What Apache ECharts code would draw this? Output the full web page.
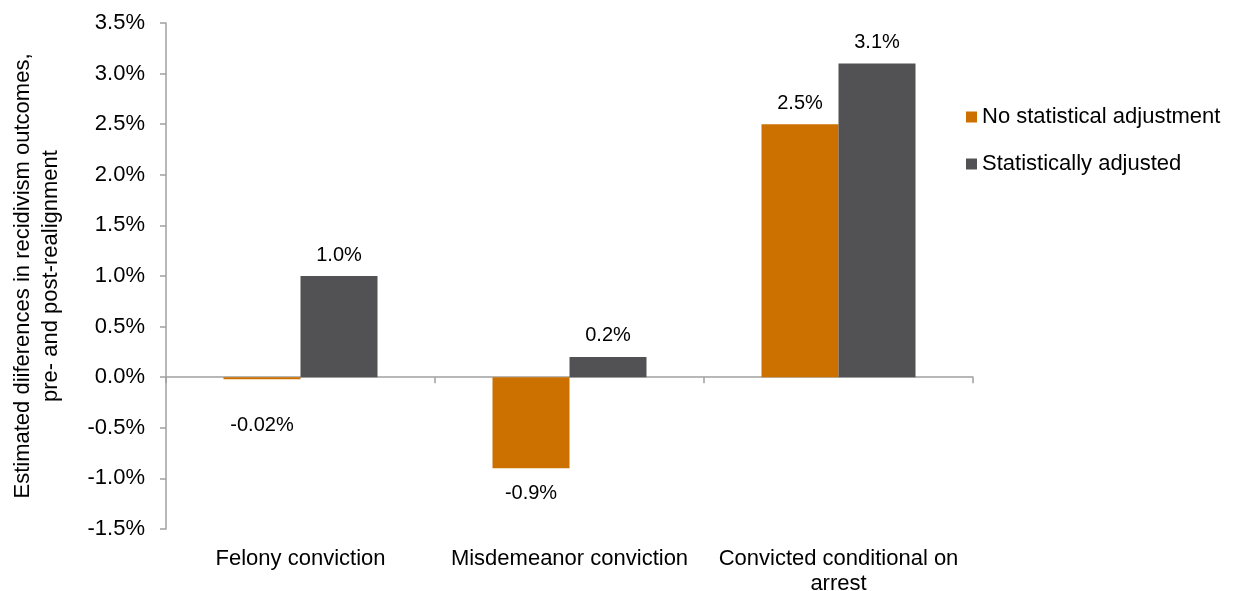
<!DOCTYPE html>
<html>
<head>
<meta charset="utf-8">
<script src="https://cdn.jsdelivr.net/npm/echarts@6/dist/echarts.min.js"></script>
<style>
  html, body { margin: 0; padding: 0; background: #fff; }
  #chart { width: 1235px; height: 591px; }
</style>
</head>
<body>
<div id="chart"></div>
<script>
const categories = ['Felony conviction', 'Misdemeanor conviction', 'Convicted conditional on\narrest']
const noAdjustment = [-0.02, -0.9, 2.5]
const adjusted = [1.0, 0.2, 3.1]
const noAdjustmentLabels = ['-0.02%', '-0.9%', '2.5%']
const adjustedLabels = ['1.0%', '0.2%', '3.1%']

const chart = echarts.init(document.getElementById('chart'))
const font = 'Liberation Sans, Arial, sans-serif'
const axisGray = '#a0a0a0'

// negative labels sit below the bar end, the tiny one was pushed further down
function labelItems(values, labels, extra) {
  return values.map((v, i) => ({
    value: v,
    label: {
      show: true,
      position: v < 0 ? 'bottom' : 'top',
      distance: v < 0 ? (extra[i] || 15) : 11,
      formatter: labels[i]
    }
  }))
}

const option = {
  animation: false,
  textStyle: { fontFamily: font },
  grid: { left: 166, right: 262, top: 23, bottom: 62, containLabel: false, outerBoundsMode: 'none' },
  legend: {
    orient: 'vertical',
    left: 961,
    top: 101,
    itemWidth: 11,
    itemHeight: 11,
    itemGap: 25,
    icon: 'rect',
    textStyle: { fontSize: 22, color: '#000', fontFamily: font, padding: [0, 0, 0, 0] },
    data: ['No statistical adjustment', 'Statistically adjusted']
  },
  xAxis: [
    {
      type: 'category',
      data: categories,
      axisLine: { onZero: true, lineStyle: { color: axisGray, width: 1.5 } },
      axisTick: { show: true, length: 6, lineStyle: { color: axisGray, width: 1.5 } },
      axisLabel: { show: false }
    },
    {
      type: 'category',
      data: categories,
      position: 'bottom',
      axisLine: { show: false },
      axisTick: { show: false },
      axisLabel: { show: true, interval: 0, hideOverlap: false, margin: 17, fontSize: 22, color: '#000', fontFamily: font, lineHeight: 25 }
    }
  ],
  yAxis: {
    type: 'value',
    min: -1.5,
    max: 3.5,
    interval: 0.5,
    name: 'Estimated diiferences in recidivism outcomes,\npre- and post-realignment',
    nameLocation: 'middle',
    nameGap: 101,
    nameTextStyle: { fontSize: 22, color: '#000', fontFamily: font, lineHeight: 28 },
    axisLine: { show: true, lineStyle: { color: axisGray, width: 1.5 } },
    axisTick: { show: true, length: 6, lineStyle: { color: axisGray, width: 1.5 } },
    splitLine: { show: false },
    axisLabel: {
      margin: 21,
      fontSize: 22,
      color: '#000',
      fontFamily: font,
      formatter: v => v.toFixed(1) + '%'
    }
  },
  series: [
    {
      name: 'No statistical adjustment',
      type: 'bar',
      barWidth: 77,
      barGap: '0%',
      itemStyle: { color: '#cc7000' },
      label: { fontSize: 20, color: '#000', fontFamily: font },
      data: labelItems(noAdjustment, noAdjustmentLabels, [36, 15, 0])
    },
    {
      name: 'Statistically adjusted',
      type: 'bar',
      barWidth: 77,
      barGap: '0%',
      itemStyle: { color: '#525254' },
      label: { fontSize: 20, color: '#000', fontFamily: font },
      data: labelItems(adjusted, adjustedLabels, [])
    }
  ]
}
chart.setOption(option)
</script>
</body>
</html>
